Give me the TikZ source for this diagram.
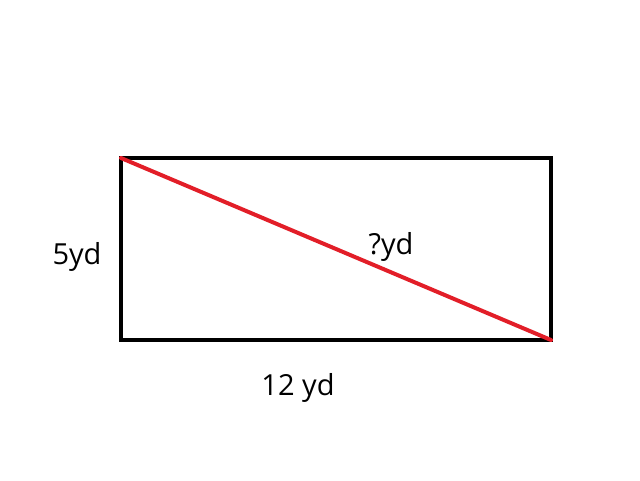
\documentclass[tikz,border=0pt]{standalone}
\usepackage{fontspec}
\setmainfont{Open Sans}
\definecolor{diagred}{RGB}{226,30,40}
\begin{document}
\begin{tikzpicture}[x=1pt,y=1pt,
  lbl/.style={inner sep=0pt,font=\fontsize{29}{32}\selectfont}]
\useasboundingbox (0,0) rectangle (640,480);
\coordinate (tl) at (121,322);
\coordinate (br) at (551,140);
\draw[line width=4pt] (tl) rectangle (br);
\draw[diagred,line width=4pt,line cap=round] (tl) -- (br);
\node[lbl] (h) at (77,223) {5yd};
\node[lbl] (w) at (298,92) {12 yd};
\node[lbl] (d) at (391,233) {?yd};
\end{tikzpicture}
\end{document}
